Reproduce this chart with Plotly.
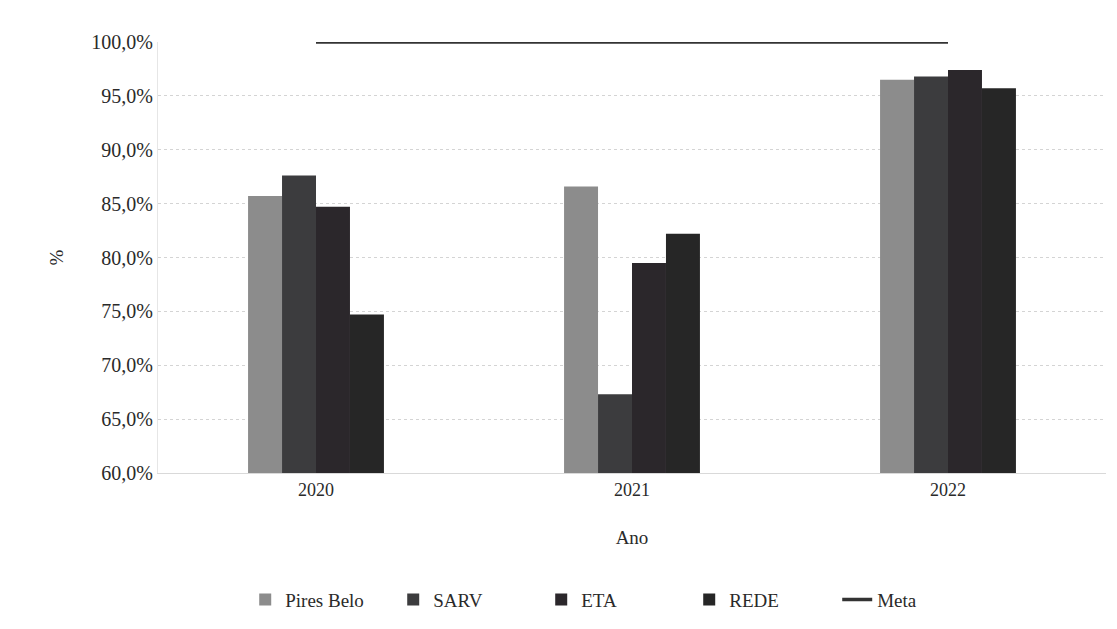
import plotly.graph_objects as go

anos = ["2020", "2021", "2022"]
pires_belo = [85.7, 86.6, 96.5]
sarv = [87.6, 67.3, 96.8]
eta = [84.7, 79.5, 97.4]
rede = [74.7, 82.2, 95.7]
meta = [100.0, 100.0, 100.0]

series = [("Pires Belo", pires_belo, "#8c8c8c"),
          ("SARV", sarv, "#3c3c3e"),
          ("ETA", eta, "#2b272b"),
          ("REDE", rede, "#262626")]

fig = go.Figure()
for name, vals, color in series:
    fig.add_trace(go.Bar(x=anos, y=vals, name=name, marker_color=color,
                         marker_line_width=0))
fig.add_trace(go.Scatter(x=anos, y=meta, name="Meta", mode="lines",
                         line=dict(color="#333333", width=3.5)))

serif = "Liberation Serif"
fig.update_layout(
    width=1109, height=621,
    barmode="group", bargap=0.57, bargroupgap=0,
    separators=",.",
    plot_bgcolor="white", paper_bgcolor="white",
    font=dict(family=serif, size=19, color="#2a2a2a"),
    margin=dict(l=150, r=11, t=34, b=156, autoexpand=False),
    xaxis=dict(title=dict(text="Ano", standoff=32, font=dict(family=serif, size=19)),
               showgrid=False, ticks="", showline=True, linecolor="#d9d9d9",
               tickfont=dict(family=serif, size=18)),
    yaxis=dict(title=dict(text="%", standoff=22, font=dict(family=serif, size=19)),
               range=[60, 100], dtick=5, tickformat=".1f", ticksuffix="%",
               tickfont=dict(family=serif, size=20),
               showline=True, linecolor="#e6e6e6",
               gridcolor="#d4d4d4", griddash="dot", zeroline=False),
    legend=dict(orientation="h", x=0.092, xanchor="left", entrywidth=103,
                y=-0.25, yanchor="top", font=dict(family=serif, size=19)),
)
fig.write_html("out.html")
